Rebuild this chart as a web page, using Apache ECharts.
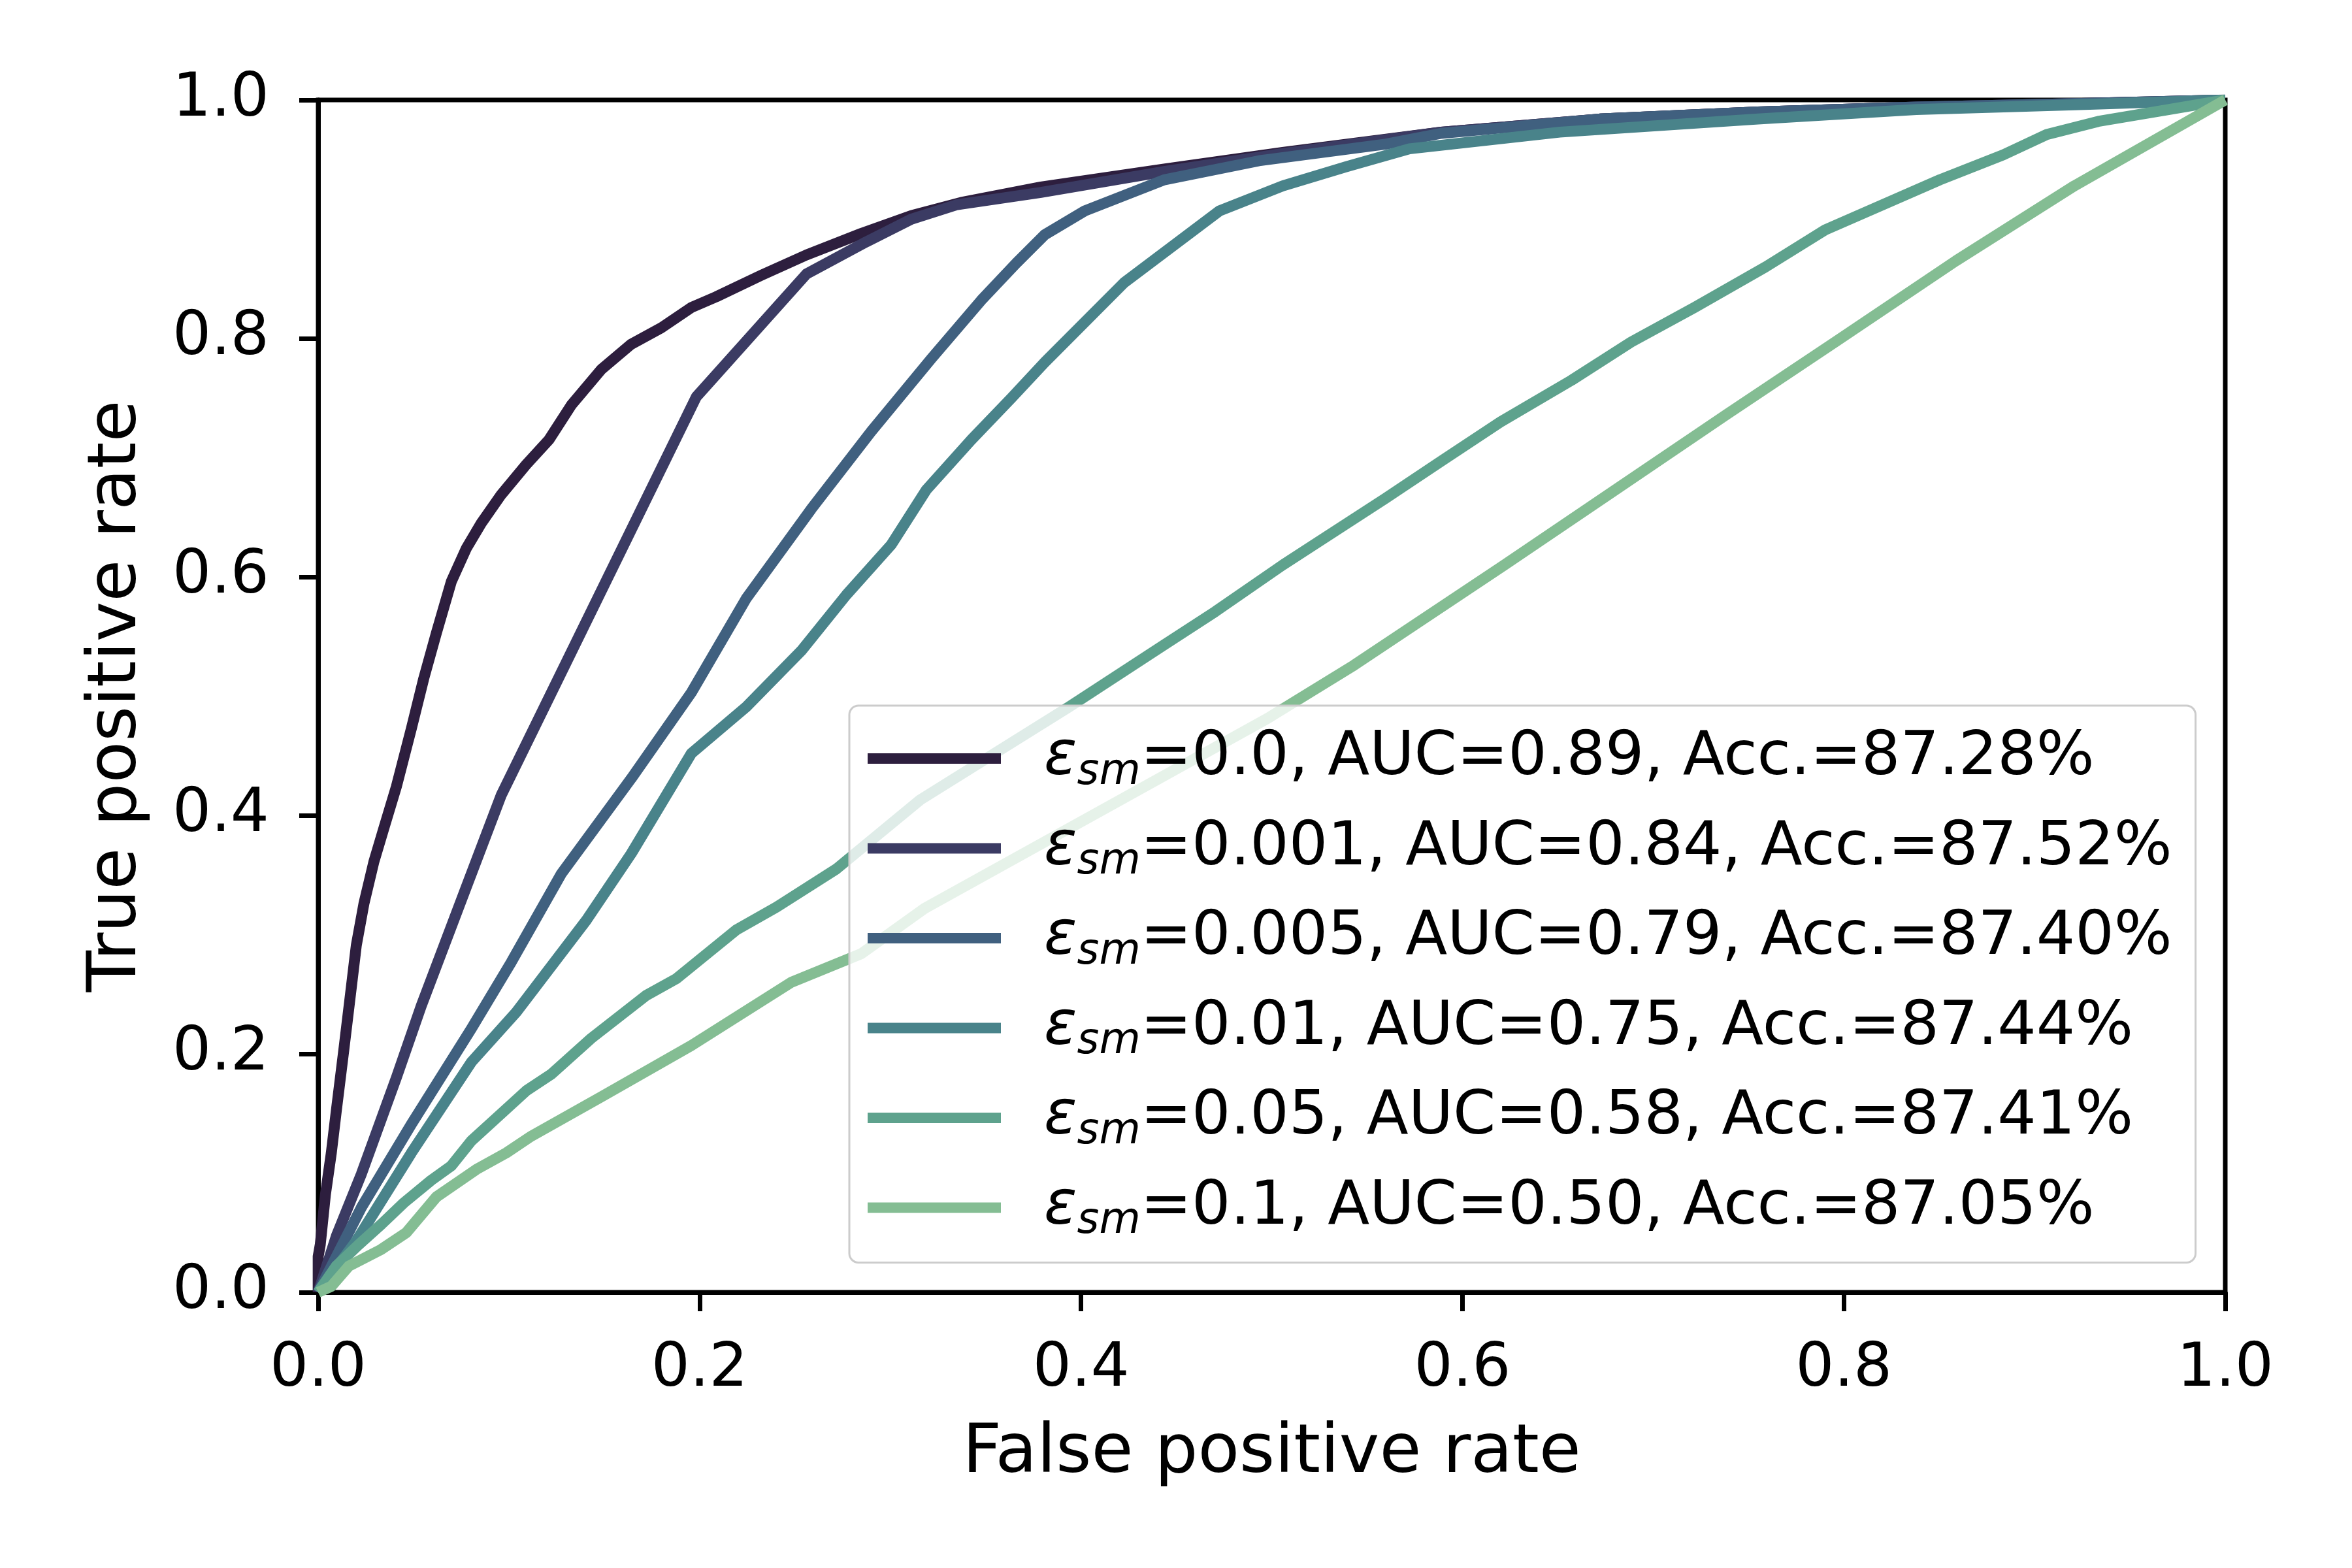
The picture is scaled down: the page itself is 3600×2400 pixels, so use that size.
<!DOCTYPE html>
<html>
<head>
<meta charset="utf-8">
<script src="https://cdn.jsdelivr.net/npm/echarts@6/dist/echarts.min.js"></script>
<style>
  html, body { margin: 0; padding: 0; background: #ffffff; }
  #chart { width: 3600px; height: 2400px; }
</style>
</head>
<body>
<div id="chart"></div>
<script>
(function() {
  // --- data: [false positive rate, true positive rate] ---
  var epsLabels = ['0.0', '0.001', '0.005', '0.01', '0.05', '0.1'];
  var aucLabels = ['0.89', '0.84', '0.79', '0.75', '0.58', '0.50'];
  var accLabels = ['87.28', '87.52', '87.40', '87.44', '87.41', '87.05'];
  var colors = ['#2d1e3e', '#3b3b63', '#40607f', '#49838a', '#5ea28d', '#84bd93'];
  var xTicks = [0, 0.2, 0.4, 0.6, 0.8, 1.0];

  var roc000 = [[0,0],[0,0.03],[0.0011,0.040],[0.0038,0.082],[0.0069,0.117],[0.0095,0.152],
    [0.0135,0.204],[0.0174,0.256],[0.020,0.291],[0.024,0.326],[0.0292,0.361],[0.0344,0.389],
    [0.041,0.424],[0.0489,0.473],[0.0554,0.515],[0.062,0.553],[0.0698,0.596],[0.0777,0.624],
    [0.0855,0.645],[0.096,0.669],[0.109,0.694],[0.121,0.715],[0.1327,0.744],[0.1485,0.774],
    [0.164,0.795],[0.18,0.809],[0.1957,0.826],[0.2088,0.835],[0.2324,0.853],[0.256,0.870],
    [0.2848,0.888],[0.311,0.903],[0.337,0.914],[0.379,0.927],[0.4436,0.942],[0.5058,0.956],
    [0.5888,0.973],[0.672,0.984],[0.755,0.990],[0.838,0.994],[0.921,0.997],[1,1]];
  var roc001 = [[0,0],[0.0095,0.047],[0.0226,0.099],[0.041,0.180],[0.054,0.240],[0.0777,0.340],
    [0.096,0.417],[0.1983,0.751],[0.256,0.854],[0.2874,0.881],[0.311,0.900],[0.3346,0.912],
    [0.379,0.9225],[0.4436,0.940],[0.5058,0.955],[0.5888,0.973],[0.672,0.984],[0.755,0.990],
    [0.838,0.994],[0.921,0.997],[1,1]];
  var roc005 = [[0,0],[0.0226,0.071],[0.0489,0.141],[0.0803,0.221],[0.1013,0.277],[0.1275,0.351],
    [0.1642,0.431],[0.1957,0.503],[0.2245,0.582],[0.2586,0.657],[0.290,0.722],[0.3215,0.783],
    [0.3477,0.832],[0.366,0.863],[0.381,0.887],[0.402,0.907],[0.4436,0.933],[0.4933,0.949],
    [0.56,0.963],[0.5888,0.972],[0.672,0.984],[0.755,0.990],[0.838,0.994],[0.921,0.997],[1,1]];
  var roc01 = [[0,0],[0.02,0.043],[0.0489,0.117],[0.0803,0.193],[0.1039,0.235],[0.1406,0.312],
    [0.1642,0.368],[0.1957,0.452],[0.2245,0.491],[0.2533,0.538],[0.277,0.585],[0.3005,0.627],
    [0.3189,0.673],[0.3425,0.715],[0.3635,0.750],[0.381,0.780],[0.4228,0.847],[0.4726,0.907],
    [0.5058,0.928],[0.539,0.944],[0.5722,0.959],[0.651,0.973],[0.755,0.984],[0.838,0.992],
    [0.921,0.996],[1,1]];
  var roc05 = [[0,0],[0.0095,0.022],[0.0213,0.040],[0.0331,0.057],[0.0449,0.075],[0.0593,0.094],
    [0.0698,0.106],[0.0803,0.127],[0.1091,0.169],[0.1223,0.183],[0.1432,0.213],[0.172,0.249],
    [0.1878,0.263],[0.2193,0.304],[0.2403,0.323],[0.2717,0.355],[0.3157,0.413],[0.3938,0.491],
    [0.4436,0.543],[0.4705,0.571],[0.5058,0.610],[0.5598,0.666],[0.5888,0.697],[0.62,0.730],
    [0.6573,0.765],[0.6885,0.797],[0.7217,0.826],[0.759,0.860],[0.7902,0.891],[0.8503,0.933],
    [0.8836,0.954],[0.9064,0.971],[0.9334,0.982],[0.9707,0.992],[1,1]];
  var roc1 = [[0,0],[0.0069,0.005],[0.0161,0.022],[0.0331,0.036],[0.0462,0.050],[0.062,0.080],
    [0.0829,0.103],[0.0987,0.117],[0.1118,0.131],[0.1485,0.164],[0.1694,0.183],[0.1957,0.207],
    [0.2481,0.260],[0.2848,0.284],[0.318,0.322],[0.4975,0.481],[0.5432,0.526],[0.622,0.610],
    [0.6802,0.673],[0.7383,0.736],[0.7964,0.798],[0.8587,0.865],[0.9209,0.928],[1,1]];
  var curves = [roc000, roc001, roc005, roc01, roc05, roc1];

  var font = 'DejaVu Sans';
  var chart = echarts.init(document.getElementById('chart'), null, { renderer: 'canvas' });

  var series = curves.map(function(d, i) {
    return {
      type: 'line',
      name: 'ε_sm=' + epsLabels[i] + ', AUC=' + aucLabels[i] + ', Acc.=' + accLabels[i] + '%',
      data: d,
      showSymbol: false,
      symbol: 'none',
      color: colors[i],
      lineStyle: { color: colors[i], width: 16.7, join: 'round', cap: 'butt' },
      emphasis: { disabled: true },
      z: 2 + i
    };
  });

  chart.setOption({
    animation: false,
    backgroundColor: '#ffffff',
    grid: {
      left: 487, right: 194, top: 153, bottom: 422,
      show: true, borderColor: '#000000', borderWidth: 7, backgroundColor: 'transparent'
    },
    xAxis: {
      type: 'value', min: 0, max: 1, interval: 0.2,
      name: 'False positive rate', nameLocation: 'middle', nameGap: 196,
      nameTextStyle: { fontFamily: font, fontSize: 104, color: '#000' },
      axisLine: { show: true, lineStyle: { color: '#000', width: 7 } },
      axisTick: { show: true, inside: false, length: 29, lineStyle: { color: '#000', width: 7 } },
      axisLabel: {
        fontFamily: font, fontSize: 93, color: '#000', margin: 72,
        formatter: function(v) { return v.toFixed(1); }
      },
      splitLine: { show: false }
    },
    yAxis: {
      type: 'value', min: 0, max: 1, interval: 0.2,
      name: 'True positive rate', nameLocation: 'middle', nameGap: 255, nameRotate: 90,
      nameTextStyle: { fontFamily: font, fontSize: 104, color: '#000' },
      axisLine: { show: true, lineStyle: { color: '#000', width: 7 } },
      axisTick: { show: true, inside: false, length: 29, lineStyle: { color: '#000', width: 7 } },
      axisLabel: {
        fontFamily: font, fontSize: 93, color: '#000', margin: 75,
        formatter: function(v) { return v.toFixed(1); }
      },
      splitLine: { show: false }
    },
    legend: {
      orient: 'vertical', left: 1300, top: 1080,
      padding: [26, 36, 29, 28],
      itemWidth: 204, itemHeight: 16, itemGap: 27.5,
      icon: 'rect',
      selectedMode: false,
      backgroundColor: 'rgba(255,255,255,0.8)',
      borderColor: '#cccccc', borderWidth: 3, borderRadius: 14,
      z: 20,
      textStyle: {
        fontFamily: font, fontSize: 93.5, color: '#000', lineHeight: 110,
        padding: [0, 0, 0, 61],
        rich: {
          e: { fontFamily: font, fontSize: 93.5, fontStyle: 'italic', color: '#000', lineHeight: 110 },
          s: { fontFamily: font, fontSize: 65, fontStyle: 'italic', color: '#000', lineHeight: 110, padding: [44, 0, 0, 0] },
          t: { fontFamily: font, fontSize: 93.5, color: '#000', lineHeight: 110 }
        }
      },
      formatter: function(name) {
        return '{e|ε}{s|sm}{t|' + name.replace('ε_sm', '') + '}';
      },
      data: series.map(function(s) { return s.name; })
    },
    series: series
  });
  window.addEventListener('resize', function() { chart.resize(); });
})();
</script>
</body>
</html>
